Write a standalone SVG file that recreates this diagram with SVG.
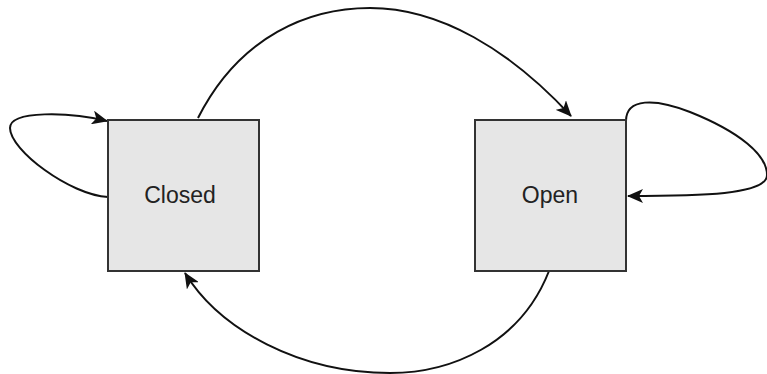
<svg xmlns="http://www.w3.org/2000/svg" width="767" height="374" viewBox="0 0 767 374">
  <style>
    .box { fill: #e6e6e6; stroke: #333333; stroke-width: 2; }
    .label { font-family: "Liberation Sans", Arial, sans-serif; font-size: 23px; fill: #222222; text-anchor: middle; }
    .edge { fill: none; stroke: #111111; stroke-width: 2; marker-end: url(#arrow); }
  </style>
  <defs>
    <marker id="arrow" viewBox="0 0 16 14" refX="15" refY="7" markerWidth="16" markerHeight="14" markerUnits="userSpaceOnUse" orient="auto">
      <path d="M0,0 L16,7 L0,14 L4,7 Z" fill="#111111"/>
    </marker>
  </defs>

  <g id="connectors">
    <!-- Closed -> Open over the top -->
    <path class="edge" d="M198,118 C240,35 310,8 370,8 C440,8 510,50 571,116"/>
    <!-- Open -> Closed along the bottom -->
    <path class="edge" d="M549,271 C520,345 450,373 390,373 C300,373 220,330 185,273"/>
    <!-- Closed self-loop -->
    <path class="edge" d="M108,197 C70,195 10,150 10,128 C10,110 70,112 107,121"/>
    <!-- Open self-loop -->
    <path class="edge" d="M626,121 C626,98 655,98 690,112 C740,132 767,155 767,175 C767,195 700,196 628,196"/>
  </g>

  <g id="closed">
    <rect class="box" x="108" y="120" width="151" height="151"/>
    <text class="label" x="180" y="203">Closed</text>
  </g>

  <g id="open">
    <rect class="box" x="475" y="120" width="151" height="151"/>
    <text class="label" x="550" y="203">Open</text>
  </g>
</svg>
